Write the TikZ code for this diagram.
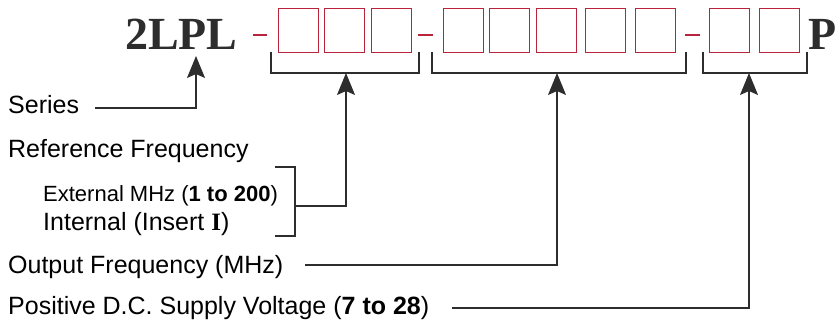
\documentclass[tikz,border=0pt]{standalone}
\usepackage{fontspec}
\setmainfont{Liberation Sans}
\newfontfamily\partfont{Liberation Serif}
\usetikzlibrary{arrows.meta, positioning}
\definecolor{codered}{RGB}{185,35,60}
\definecolor{leadgray}{RGB}{45,45,45}
\tikzset{
>={Stealth[length=22pt, width=18pt, inset=4pt]}, % big filled arrow heads
codebox/.style={draw=codered, line width=1.3pt, minimum width=40pt, minimum height=44pt, inner sep=0pt}, % one empty code field
gap/.style={draw=codered, line width=1.3pt}, % the small dashes between fields
lead/.style={draw=leadgray, line width=1.2pt}, % brackets and leader lines
part/.style={anchor=base west, inner sep=0pt, text=leadgray, font=\partfont\bfseries\fontsize{46}{50}\selectfont}, % fixed part of the code
desc/.style={anchor=base west, inner sep=0pt, font=\fontsize{25}{30}\selectfont}, % the field descriptions
}

\begin{document}
\begin{tikzpicture}[x=1pt, y=-1pt]
      \useasboundingbox (0,0) rectangle (835,324);
      % part number
      \node[part] (model) at (125,49) {2LPL};
      \foreach \n/\x in {1/278,2/324,3/371,4/443,5/489,6/536,7/585,8/635,9/709,10/759}
        \node[codebox, anchor=north west] (b\n) at (\x,8) {};
      \node[part] (suffix) at (808,49) {P};
      \draw[gap] (253,35) -- (267,35)
      (418,35) -- (433,35)
      (685,35) -- (700,35);

      % brackets under the field groups
      \draw[lead] (271,52) |- (419,73) -- (419,52);
      \draw[lead] (432,52) |- (686,73) -- (686,52);
      \draw[lead] (703,52) |- (807,73) -- (807,52);
      \coordinate (modelTip) at (196,56);
      \coordinate (refTip) at (346,73);
      \coordinate (outTip) at (557,73);
      \coordinate (vccTip) at (749,73);

      % descriptions
      \node[desc] (seriesTxt) at (8,113) {Series};
      \node[desc] (refTxt) at (8,157) {Reference Frequency};
      \node[desc, font=\fontsize{22}{26}\selectfont] (extTxt) at (43,201) {External MHz (\textbf{1 to 200})};
      \node[desc] (intTxt) at (43,230) {Internal (Insert {\partfont\bfseries I})};
      \node[desc] (outTxt) at (8,273) {Output Frequency (MHz)};
      \node[desc] (vccTxt) at (8,314) {Positive D.C. Supply Voltage (\textbf{7 to 28})};
      \coordinate (seriesEnd) at (95,108);
      \coordinate (refEnd) at (295,206);
      \coordinate (outEnd) at (305,265);
      \coordinate (vccEnd) at (452,308);

      % leaders
      \draw[lead] (275,167) -| (295,236) -- (275,236);
      \draw[lead, ->] (seriesEnd) -| (modelTip);
      \draw[lead, ->] (refEnd) -| (refTip);
      \draw[lead, ->] (outEnd) -| (outTip);
      \draw[lead, ->] (vccEnd) -| (vccTip);
    \end{tikzpicture}
\end{document}
